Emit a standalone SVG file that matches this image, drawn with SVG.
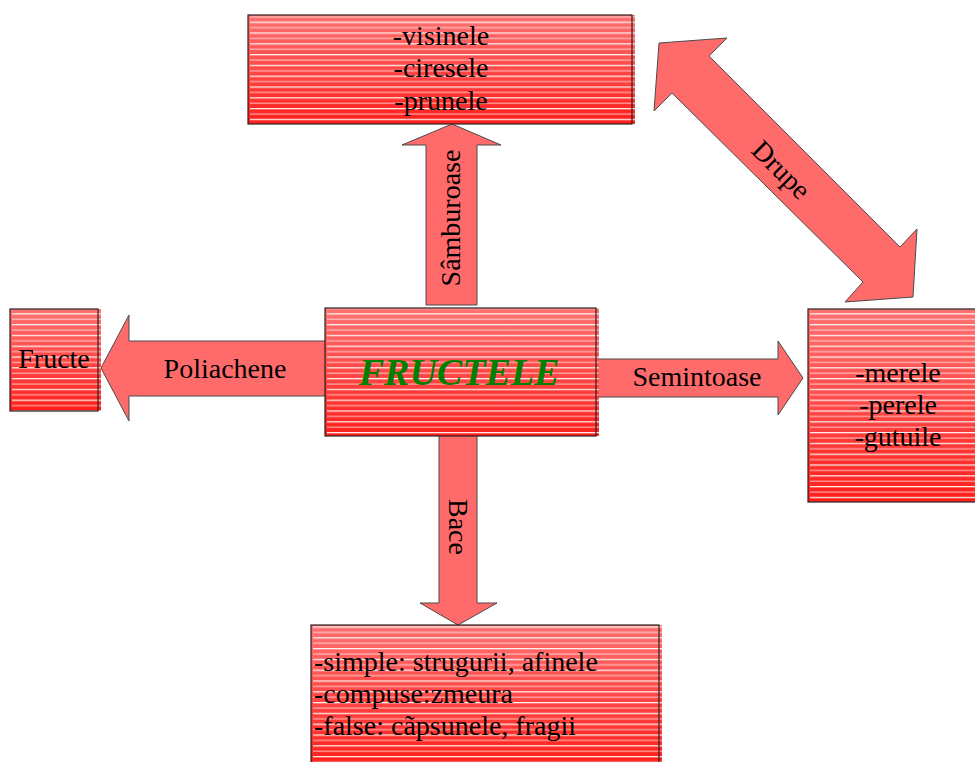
<svg xmlns="http://www.w3.org/2000/svg" width="975" height="762" viewBox="0 0 975 762">
  <defs>
    <linearGradient id="redFade" x1="0" y1="0" x2="0" y2="1">
      <stop offset="0" stop-color="#ff7272"/>
      <stop offset="1" stop-color="#ff1e1a"/>
    </linearGradient>
    <pattern id="stripes" patternUnits="userSpaceOnUse" x="0" y="0" width="10" height="10.8">
      <rect x="0" y="0" width="10" height="1.3" fill="#ffffff" fill-opacity="0.9"/>
      <rect x="0" y="5.4" width="10" height="1.3" fill="#ffffff" fill-opacity="0.55"/>
    </pattern>
    <style>
      .box { fill: url(#redFade); }
      .stripe { fill: url(#stripes); }
      .frame { fill: none; stroke: #2a2020; stroke-width: 1.2; }
      .arrow { fill: #ff6b6b; stroke: #4a4a4a; stroke-width: 1; stroke-linejoin: miter; }
      .lbl { font-family: "Liberation Serif", "Times New Roman", serif; font-size: 28px; fill: #000; }
      .title { font-family: "Liberation Serif", "Times New Roman", serif; font-size: 38px; font-weight: bold; font-style: italic; fill: #008000; }
    </style>
  </defs>

  <!-- block arrows between the categories -->
  <g id="connectors">
    <g id="arrow-samburoase">
      <polygon class="arrow" points="452,124 501,145 477,145 477,305 426,305 426,145 402,145"/>
      <text class="lbl" transform="translate(460,218) rotate(-90)" text-anchor="middle">Sâmburoase</text>
    </g>
    <g id="arrow-poliachene">
      <polygon class="arrow" points="101,368 129,315 129,341 326,341 326,396 129,396 129,421"/>
      <text class="lbl" x="225" y="378" text-anchor="middle">Poliachene</text>
    </g>
    <g id="arrow-semintoase">
      <polygon class="arrow" points="597,359 778,359 778,341 803,378 778,415 778,397 597,397"/>
      <text class="lbl" x="697" y="386" text-anchor="middle">Semintoase</text>
    </g>
    <g id="arrow-bace">
      <polygon class="arrow" points="439,435 477,435 477,603 497,603 458,625 420,603 439,603"/>
      <text class="lbl" transform="translate(449,527) rotate(90)" text-anchor="middle">Bace</text>
    </g>
    <g id="arrow-drupe">
      <polygon class="arrow" points="659,43 727,38 709,56 900,247 917,229 913,297 845,302 863,282 672,93 654,111"/>
      <text class="lbl" transform="translate(781,170) rotate(45)" y="9" text-anchor="middle">Drupe</text>
    </g>
  </g>

  <!-- stone fruits -->
  <g id="node-drupe">
    <rect class="box" x="248" y="15" width="387" height="109"/>
    <rect class="stripe" x="250" y="15" width="385" height="109"/>
    <rect class="frame" x="248" y="15" width="384" height="109"/>
    <text class="lbl" x="441" y="45" text-anchor="middle">-visinele</text>
    <text class="lbl" x="441" y="77" text-anchor="middle">-ciresele</text>
    <text class="lbl" x="441" y="110" text-anchor="middle">-prunele</text>
  </g>

  <!-- central node -->
  <g id="node-fructele">
    <rect class="box" x="325" y="308" width="274" height="128"/>
    <rect class="stripe" x="327" y="308" width="272" height="128"/>
    <rect class="frame" x="325" y="308" width="271" height="128"/>
    <text class="title" x="459" y="385" text-anchor="middle">FRUCTELE</text>
  </g>

  <!-- aggregate fruits -->
  <g id="node-fructe">
    <rect class="box" x="10" y="309" width="91" height="102"/>
    <rect class="stripe" x="12" y="309" width="89" height="102"/>
    <rect class="frame" x="10" y="309" width="88" height="102"/>
    <text class="lbl" x="54" y="368" text-anchor="middle" font-size="29">Fructe</text>
  </g>

  <!-- pome fruits -->
  <g id="node-semintoase">
    <rect class="box" x="808" y="309" width="170" height="193"/>
    <rect class="stripe" x="810" y="309" width="168" height="193"/>
    <rect class="frame" x="808" y="309" width="172" height="193"/>
    <text class="lbl" x="898" y="382" text-anchor="middle">-merele</text>
    <text class="lbl" x="898" y="414" text-anchor="middle">-perele</text>
    <text class="lbl" x="898" y="446" text-anchor="middle">-gutuile</text>
  </g>

  <!-- berries -->
  <g id="node-bace">
    <rect class="box" x="311" y="625" width="351" height="140"/>
    <rect class="stripe" x="313" y="625" width="349" height="140"/>
    <rect class="frame" x="311" y="625" width="348" height="145"/>
    <text class="lbl" x="314" y="671">-simple: strugurii, afinele</text>
    <text class="lbl" x="314" y="703">-compuse:zmeura</text>
    <text class="lbl" x="314" y="735">-false: cãpsunele, fragii</text>
  </g>
</svg>
